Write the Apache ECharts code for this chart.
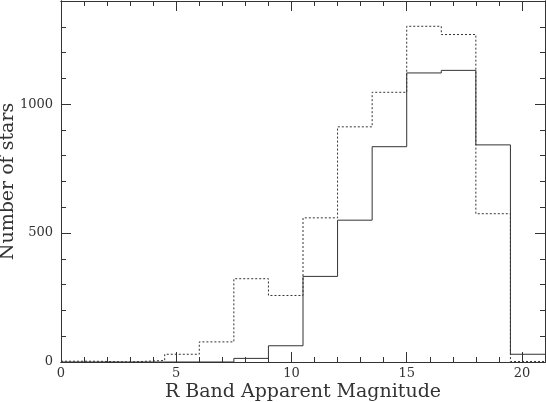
<!DOCTYPE html>
<html>
<head>
<meta charset="utf-8">
<script src="https://cdn.jsdelivr.net/npm/echarts@6/dist/echarts.min.js"></script>
<style>
  html, body { margin: 0; padding: 0; background: #fff; }
  #chart_con { width: 546px; height: 402px; }
</style>
</head>
<body>
<div id="chart_con"></div>
<script>
// bin edges (R magnitude), bins are 1.5 mag wide
var binEdges = [0, 1.5, 3, 4.5, 6, 7.5, 9, 10.5, 12, 13.5, 15, 16.5, 18, 19.5, 21];
// counts per bin
var solidCounts = [0, 0, 0, 0, 0, 14, 63, 332, 550, 835, 1121, 1131, 842, 30];
var dottedCounts = [3, 0, 6, 30, 78, 323, 258, 559, 912, 1046, 1302, 1270, 575, 2];

var xName = 'R Band Apparent Magnitude';
var yName = 'Number of stars';

var ink = '#333';
var font = 'DejaVu Serif';

// step points: left edge of each bin + closing right edge
function stepData(counts) {
  var pts = [];
  counts.forEach(function (v, i) {
    pts.push([binEdges[i], v]);
  });
  pts.push([binEdges[binEdges.length - 1], counts[counts.length - 1]]);
  return pts;
}

function xAx(pos, interval, len, labels, name) {
  return {
    type: 'value', position: pos, min: 0, max: 21, interval: interval,
    name: name || '', nameLocation: 'middle', nameGap: 21, nameMoveOverlap: false,
    nameTextStyle: { fontFamily: font, fontSize: 19, color: ink },
    axisLine: { show: true, onZero: false, lineStyle: { color: ink, width: 1 } },
    axisTick: { show: true, inside: true, length: len, lineStyle: { color: ink } },
    axisLabel: {
      show: labels, margin: 5, fontFamily: font, fontSize: 13, color: ink,
      formatter: function (v) { return v % 5 === 0 ? String(v) : ''; }
    },
    splitLine: { show: false }
  };
}

function yAx(pos, interval, len, labels, name) {
  return {
    type: 'value', position: pos, min: 0, max: 1400, interval: interval,
    name: name || '', nameLocation: 'middle', nameGap: 43, nameMoveOverlap: false,
    nameTextStyle: { fontFamily: font, fontSize: 19, color: ink },
    axisLine: { show: true, onZero: false, lineStyle: { color: ink, width: 1 } },
    axisTick: { show: true, inside: true, length: len, lineStyle: { color: ink } },
    axisLabel: {
      show: labels, margin: 8, fontFamily: font, fontSize: 13, color: ink,
      formatter: function (v) { return v % 500 === 0 ? String(v) : ''; }
    },
    splitLine: { show: false }
  };
}

var chart = echarts.init(document.getElementById('chart_con'));
chart.setOption({
  animation: false,
  backgroundColor: '#fff',
  grid: { left: 61, right: 1, top: 1, bottom: 40, containLabel: false, outerBoundsMode: 'none' },
  xAxis: [
    xAx('bottom', 5, 10, true, xName),
    xAx('bottom', 1, 5, false),
    xAx('top', 5, 10, false),
    xAx('top', 1, 5, false)
  ],
  yAxis: [
    yAx('left', 500, 10, true, yName),
    yAx('left', 100, 5, false),
    yAx('right', 500, 10, false),
    yAx('right', 100, 5, false)
  ],
  series: [
    {
      type: 'line', step: 'end', symbol: 'none', xAxisIndex: 0, yAxisIndex: 0,
      data: stepData(dottedCounts),
      lineStyle: { color: ink, width: 1, type: [2, 2] }
    },
    {
      type: 'line', step: 'end', symbol: 'none', xAxisIndex: 0, yAxisIndex: 0,
      data: stepData(solidCounts),
      lineStyle: { color: ink, width: 1 }
    }
  ]
});
</script>
</body>
</html>
